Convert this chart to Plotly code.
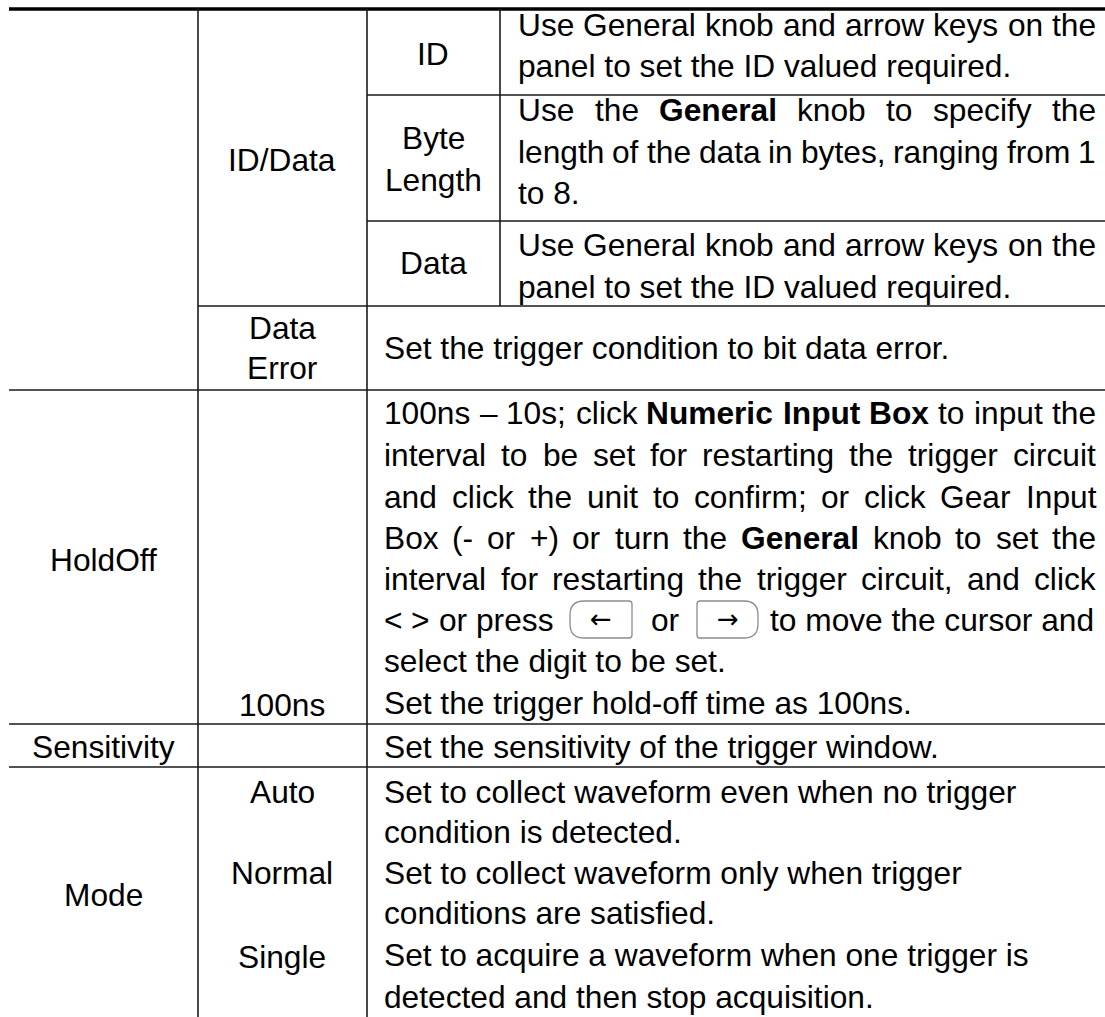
import plotly.graph_objects as go

W, H = 1105, 1017
FONT = "Liberation Sans, Arial, Helvetica, sans-serif"
FS = 31.7

# ---------------- table content ----------------
col1_labels = ["HoldOff", "Sensitivity", "Mode"]
col2_labels = [["ID/Data"], ["Data", "Error"], ["100ns"], ["Auto"], ["Normal"], ["Single"]]
col3_labels = [["ID"], ["Byte", "Length"], ["Data"]]

desc_id = ["Use General knob and arrow keys on the",
           "panel to set the ID valued required."]
desc_bytelen = ["Use the <b>General</b> knob to specify the",
                "length of the data in bytes, ranging from 1",
                "to 8."]
desc_data = ["Use General knob and arrow keys on the",
             "panel to set the ID valued required."]
desc_dataerr = ["Set the trigger condition to bit data error."]
desc_holdoff = ["100ns – 10s; click <b>Numeric Input Box</b> to input the",
                "interval to be set for restarting the trigger circuit",
                "and click the unit to confirm; or click Gear Input",
                "Box (- or +) or turn the <b>General</b> knob to set the",
                "interval for restarting the trigger circuit, and click",
                "KEYLINE",
                "select the digit to be set."]
keyline_parts = ["< > or press", "←", "or", "→", "to move the cursor and"]
desc_100ns = ["Set the trigger hold-off time as 100ns."]
desc_sens = ["Set the sensitivity of the trigger window."]
desc_auto = ["Set to collect waveform even when no trigger",
             "condition is detected."]
desc_normal = ["Set to collect waveform only when trigger",
               "conditions are satisfied."]
desc_single = ["Set to acquire a waveform when one trigger is",
               "detected and then stop acquisition."]

# ---------------- layout (positions) ----------------
xL, xA, xB, xC, xR = 9, 198, 367, 500, 1105
x0_sub, x0_main, x1_text = 517, 383, 1095

col1_pos = [(103, [560]), (103, [747]), (103, [895])]
col2_pos = [(282, [160]), (282, [328, 368]), (282, [705]),
            (282, [792]), (282, [873]), (282, [957])]
col3_pos = [(433, [54]), (433, [138, 180]), (433, [263])]

desc_blocks = [
    (desc_id, x0_sub, [25, 66], [True, False]),
    (desc_bytelen, x0_sub, [110, 152, 193], [True, True, False]),
    (desc_data, x0_sub, [245, 287], [True, False]),
    (desc_dataerr, x0_main, [348], [False]),
    (desc_holdoff, x0_main, [413, 455, 497, 538, 579, 620, 661],
     [True, True, True, True, True, False, False]),
    (desc_100ns, x0_main, [703], [False]),
    (desc_sens, x0_main, [747], [False]),
    (desc_auto, x0_main, [792, 832], [False, False]),
    (desc_normal, x0_main, [873, 913], [False, False]),
    (desc_single, x0_main, [955, 997], [False, False]),
]

# Helvetica/Arial advance widths (1/1000 em)
REG = {' ': 278, '(': 333, ')': 333, '+': 584, ',': 278, '-': 333, '.': 278, '/': 278,
       ':': 278, ';': 278, '<': 584, '>': 584, '–': 556}
for c in "0123456789":
    REG[c] = 556
REG.update(dict(zip("ABCDEFGHIJKLMNOPQRSTUVWXYZ",
                    [667, 667, 722, 722, 667, 611, 778, 722, 278, 500, 667, 556, 833,
                     722, 778, 667, 778, 722, 667, 611, 722, 667, 944, 667, 667, 611])))
REG.update(dict(zip("abcdefghijklmnopqrstuvwxyz",
                    [556, 556, 500, 556, 556, 278, 556, 556, 222, 222, 500, 222, 833,
                     556, 556, 556, 556, 333, 500, 278, 556, 500, 722, 500, 500, 500])))
BOLD = dict(REG)
BOLD.update(dict(zip("ABCDEFGHIJKLMNOPQRSTUVWXYZ",
                     [722, 722, 722, 722, 667, 611, 778, 722, 278, 556, 722, 611, 833,
                      722, 778, 667, 778, 722, 667, 611, 722, 667, 944, 667, 667, 611])))
BOLD.update(dict(zip("abcdefghijklmnopqrstuvwxyz",
                     [556, 611, 556, 611, 556, 333, 611, 611, 278, 278, 556, 278, 889,
                      611, 611, 611, 611, 389, 556, 333, 611, 556, 778, 556, 556, 500])))


def width(txt, bold=False):
    t = BOLD if bold else REG
    return sum(t.get(c, 556) for c in txt) * FS / 1000.0


def parse_words(line):
    words, bold = [], False
    for tok in line.split(" "):
        b, t = bold, tok
        if t.startswith("<b>"):
            t = t[3:]
            b = bold = True
        if t.endswith("</b>"):
            t = t[:-4]
            bold = False
        words.append((t, b))
    return words


annotations = []


def add_text(x, y, txt, anchor="left", size=FS, family=FONT):
    annotations.append(dict(x=x, y=y, xref="x", yref="y", text=txt, showarrow=False,
                            xanchor=anchor, yanchor="middle", borderpad=0,
                            font=dict(family=family, size=size, color="#000000")))


def add_words(words, xs, y):
    for (w, b), x in zip(words, xs):
        add_text(x, y, f"<b>{w}</b>" if b else w)


# centered labels
for lab, (cx, ys) in zip(col1_labels, col1_pos):
    add_text(cx, ys[0], lab, "center")
for labs, (cx, ys) in zip(col2_labels, col2_pos):
    for lab, y in zip(labs, ys):
        add_text(cx, y, lab, "center")
for labs, (cx, ys) in zip(col3_labels, col3_pos):
    for lab, y in zip(labs, ys):
        add_text(cx, y, lab, "center")

shapes = []

# descriptions
for lines, x0, ys, just in desc_blocks:
    for line, y, j in zip(lines, ys, just):
        if line == "KEYLINE":
            # "< > or press [<-] or [->] to move the cursor and"
            first = [("<", False), (">", False), ("or", False), ("press", False)]
            xs, x = [], x0
            for w, b in first:
                xs.append(x)
                x += width(w, b) + width(" ")
            add_words(first, xs, y)
            kx = [(570, 632, True), (697, 758, False)]
            for (a, b, left_round), arrow in zip(kx, [keyline_parts[1], keyline_parts[3]]):
                t, btm, r, r2 = y - 19, y + 18, 14, 3
                if left_round:
                    p = (f"M {a + r},{t} L {b - r2},{t} Q {b},{t} {b},{t + r2} L {b},{btm - r2} "
                         f"Q {b},{btm} {b - r2},{btm} L {a + r},{btm} Q {a},{btm} {a},{btm - r} "
                         f"L {a},{t + r} Q {a},{t} {a + r},{t} Z")
                else:
                    p = (f"M {a + r2},{t} L {b - r},{t} Q {b},{t} {b},{t + r} L {b},{btm - r} "
                         f"Q {b},{btm} {b - r},{btm} L {a + r2},{btm} Q {a},{btm} {a},{btm - r2} "
                         f"L {a},{t + r2} Q {a},{t} {a + r2},{t} Z")
                shapes.append(dict(type="path", path=p, xref="x", yref="y",
                                   line=dict(color="#8c8c8c", width=1.3)))
                add_text((a + b) / 2, y - 1, arrow, "center", size=26,
                         family="DejaVu Sans, sans-serif")
            add_text((632 + 697) / 2 + 1, y, keyline_parts[2], "center")
            add_text(x1_text, y, keyline_parts[4], "right")
            continue
        words = parse_words(line)
        ws = [width(w, b) for w, b in words]
        if j and len(words) > 1:
            gap = (x1_text - x0 - sum(ws)) / (len(words) - 1)
        else:
            gap = width(" ")
        xs, x = [], x0
        for wd in ws:
            xs.append(x)
            x += wd + gap
        if j:
            add_words(words, xs, y)
        else:
            add_text(x0, y, line)

# grid lines
LC = "#1a1a1a"
hlines = [(95, xB, xR), (221, xB, xR), (306, xA, xR), (390, xL, xR),
          (724, xL, xR), (767, xL, xR)]
for y, a, b in hlines:
    shapes.append(dict(type="line", x0=a, x1=b, y0=y, y1=y, xref="x", yref="y",
                       line=dict(color=LC, width=1.5)))
shapes.append(dict(type="line", x0=xL, x1=xR, y0=9, y1=9, xref="x", yref="y",
                   line=dict(color="#000000", width=3.5)))
vlines = [(xA, 9, H), (xB, 9, H), (xC, 9, 306)]
for x, a, b in vlines:
    shapes.append(dict(type="line", x0=x, x1=x, y0=a, y1=b, xref="x", yref="y",
                       line=dict(color=LC, width=1.6)))

fig = go.Figure()
fig.add_trace(go.Scatter(x=[0, W], y=[0, H], mode="markers",
                         marker=dict(opacity=0), hoverinfo="skip", showlegend=False))
fig.update_layout(width=W, height=H, margin=dict(l=0, r=0, t=0, b=0),
                  paper_bgcolor="white", plot_bgcolor="white",
                  xaxis=dict(range=[0, W], visible=False, fixedrange=True),
                  yaxis=dict(range=[H, 0], visible=False, fixedrange=True),
                  shapes=shapes, annotations=annotations, showlegend=False)
fig.write_html("out.html", config={"displayModeBar": False},
               post_script="document.body.style.margin='0';document.body.style.overflow='hidden';")
